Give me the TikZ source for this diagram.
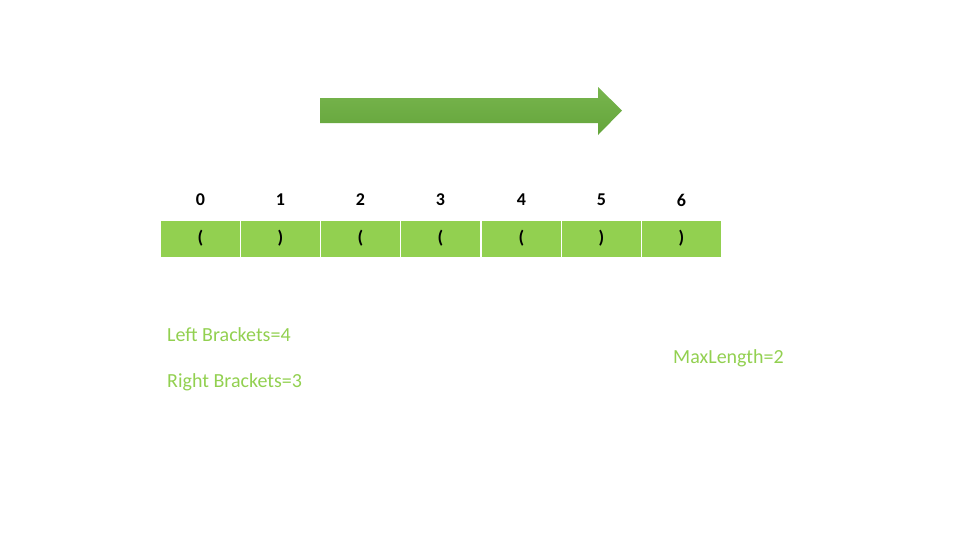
\documentclass[tikz,border=0pt]{standalone}
\usepackage{fontspec}
\setmainfont{Carlito}
\definecolor{cellgreen}{HTML}{92D050}
\definecolor{arrowtop}{HTML}{78B54E}
\definecolor{arrowbot}{HTML}{64A53B}
\tikzset{
  cell/.style={fill=cellgreen, draw=white, line width=0.8pt, minimum width=80pt, minimum height=37pt, inner sep=0pt, anchor=west,
    font=\fontsize{18}{20}\selectfont\bfseries},
  idx/.style={font=\fontsize{18}{20}\selectfont\bfseries, inner sep=0pt},
  info/.style={text=cellgreen, font=\fontsize{20}{24}\selectfont, anchor=west, inner sep=0pt}
}
\begin{document}
\begin{tikzpicture}[x=1pt,y=-1pt]
\useasboundingbox (0,0) rectangle (962,542);
% arrow
\shade[top color=arrowtop, bottom color=arrowbot]
  (320,98) -- (598,98) -- (598,87) -- (622,110.5) -- (598,135) -- (598,123) -- (320,123) -- cycle;
% cells
\foreach \i/\c/\x in {0/(/160,1/)/240,2/(/320,3/(/400,4/(/481,5/)/561,6/)/641}{
  \node[cell] (c\i) at (\x,238.5) {\c};
  \node[idx] (n\i) at ([yshift=38.5pt]c\i.center) {\i};
}
\node[info] (lb) at (167,334.5) {Left Brackets=4};
\node[info] (rb) at (167,382.5) {Right Brackets=3};
\node[info] (ml) at (673,358.5) {MaxLength=2};
\end{tikzpicture}
\end{document}
